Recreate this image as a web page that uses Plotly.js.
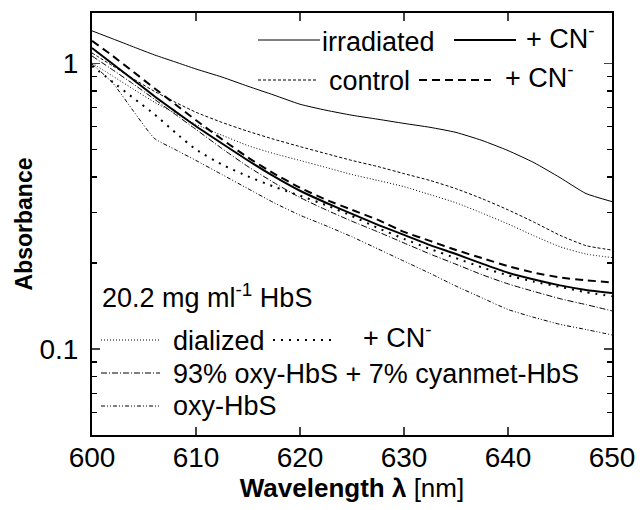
<!DOCTYPE html>
<html>
<head>
<meta charset="utf-8">
<script src="https://cdn.plot.ly/plotly-3.0.1.min.js"></script>
<style>
  html, body { margin: 0; padding: 0; background: #fff; }
  #chart { width: 640px; height: 510px; }
</style>
</head>
<body>
<div id="chart"></div>
<script>
// Wavelength grid (nm)
const wavelength = [600, 602, 604, 606, 608, 610, 612.5, 615, 617.5, 620, 622.5, 625, 627.5, 630, 632.5, 635, 637.5, 640, 642.5, 645, 647.5, 650];

// Absorbance series
const irradiated     = [1.299, 1.218, 1.141, 1.070, 1.011, 0.955, 0.895, 0.831, 0.774, 0.719, 0.685, 0.658, 0.637, 0.616, 0.597, 0.573, 0.537, 0.495, 0.449, 0.398, 0.350, 0.328];
const irradiatedCN   = [1.132, 0.994, 0.874, 0.767, 0.679, 0.602, 0.524, 0.457, 0.402, 0.358, 0.325, 0.297, 0.272, 0.251, 0.231, 0.215, 0.199, 0.185, 0.175, 0.167, 0.161, 0.157];
const control        = [1.087, 0.979, 0.881, 0.798, 0.731, 0.674, 0.621, 0.578, 0.542, 0.511, 0.483, 0.457, 0.435, 0.411, 0.389, 0.364, 0.336, 0.307, 0.278, 0.250, 0.230, 0.222];
const controlCN      = [1.198, 1.061, 0.932, 0.818, 0.719, 0.632, 0.542, 0.468, 0.411, 0.367, 0.333, 0.307, 0.283, 0.257, 0.239, 0.222, 0.208, 0.195, 0.185, 0.178, 0.174, 0.171];
const dialized       = [1.002, 0.902, 0.811, 0.731, 0.668, 0.611, 0.560, 0.515, 0.483, 0.457, 0.432, 0.408, 0.389, 0.370, 0.347, 0.325, 0.299, 0.274, 0.249, 0.228, 0.215, 0.209];
const dializedCN     = [0.979, 0.860, 0.755, 0.663, 0.573, 0.499, 0.442, 0.402, 0.370, 0.344, 0.319, 0.292, 0.265, 0.243, 0.224, 0.208, 0.193, 0.181, 0.172, 0.165, 0.158, 0.153];
const mix93          = [1.061, 0.948, 0.845, 0.749, 0.663, 0.587, 0.503, 0.435, 0.382, 0.339, 0.307, 0.280, 0.257, 0.235, 0.215, 0.198, 0.182, 0.169, 0.159, 0.150, 0.143, 0.136];
const oxyHbS         = [0.995, 0.853, 0.679, 0.546, 0.499, 0.457, 0.408, 0.364, 0.325, 0.294, 0.270, 0.247, 0.224, 0.203, 0.184, 0.166, 0.151, 0.1375, 0.129, 0.122, 0.117, 0.112];

// Axis ticks
const xTicks = [600, 610, 620, 630, 640, 650];
const yTicks = [0.1, 1];
const yTickText = ['0.1', '1'];
const yMinorTicks = [0.06, 0.07, 0.08, 0.09, 0.2, 0.3, 0.4, 0.5, 0.6, 0.7, 0.8, 0.9];

const FONT = 'Arial, "Liberation Sans", sans-serif';

// Line styles
const styles = {
  irr:    {color: '#000', width: 1,   dash: 'solid'},
  irrCN:  {color: '#000', width: 2,   dash: 'solid'},
  ctl:    {color: '#000', width: 1,   dash: '3px,2px'},
  ctlCN:  {color: '#000', width: 2,   dash: '8px,5px'},
  dia:    {color: '#000', width: 1,   dash: '1px,2px'},
  diaCN:  {color: '#000', width: 2,   dash: '2px,6px'},
  mix:    {color: '#000', width: 1,   dash: '6px,2px,1px,2px'},
  oxy:    {color: '#000', width: 1,   dash: '4px,2px,1px,2px,1px,2px'}
};

function tr(y, st, name) {
  return {x: wavelength, y: y, type: 'scatter', mode: 'lines', name: name,
          line: Object.assign({shape: 'spline', smoothing: 0.5}, st), showlegend: false, hoverinfo: 'skip'};
}

const data = [
  tr(irradiated, styles.irr, 'irradiated'),
  tr(irradiatedCN, styles.irrCN, 'irradiated + CN-'),
  tr(control, styles.ctl, 'control'),
  tr(controlCN, styles.ctlCN, 'control + CN-'),
  tr(dialized, styles.dia, 'dialized'),
  tr(dializedCN, styles.diaCN, 'dialized + CN-'),
  tr(mix93, styles.mix, '93% oxy-HbS + 7% cyanmet-HbS'),
  tr(oxyHbS, styles.oxy, 'oxy-HbS')
];

// plot area in pixels: left 92, right 612, top 13, bottom 435
const L = 92, R = 612, T = 13, B = 435;
const px = v => (v - L) / (R - L);
const py = v => (B - v) / (B - T);

function sample(x0, x1, y, st) {
  return {type: 'line', xref: 'paper', yref: 'paper', x0: px(x0), x1: px(x1), y0: py(y), y1: py(y),
          line: {color: st.color, width: st.width, dash: st.dash}};
}
function label(x, y, text) {
  return {xref: 'paper', yref: 'paper', x: px(x), y: py(y), xanchor: 'left', yanchor: 'middle',
          text: text, showarrow: false, font: {family: FONT, size: 27, color: '#000'}};
}

const shapes = [
  sample(258, 320, 40, styles.irr),
  sample(454, 516, 40, styles.irrCN),
  sample(258, 317, 80, styles.ctl),
  sample(419, 491, 80, styles.ctlCN),
  sample(101, 160, 340, styles.dia),
  sample(273, 336, 340, styles.diaCN),
  sample(101, 160, 373, styles.mix),
  sample(101, 160, 406, styles.oxy)
];

const annotations = [
  label(320, 42, 'irradiated'),
  label(524, 37, '+ CN<sup>-</sup>'),
  label(327, 81, 'control'),
  label(503, 76, '+ CN<sup>-</sup>'),
  label(100, 296, '20.2 mg ml<sup>-1</sup> HbS'),
  label(171, 341, 'dialized'),
  label(361, 336, '+ CN<sup>-</sup>'),
  label(171, 374, '93% oxy-HbS + 7% cyanmet-HbS'),
  label(171, 406, 'oxy-HbS')
];

const layout = {
  width: 640, height: 510,
  margin: {l: L, r: 640 - R, t: T, b: 510 - B, pad: 0},
  paper_bgcolor: '#fff', plot_bgcolor: '#fff',
  font: {family: FONT, color: '#000'},
  showlegend: false,
  xaxis: {
    range: [600, 650], tickvals: xTicks, ticks: 'inside', ticklen: 8, tickwidth: 1.5,
    showline: true, linewidth: 2, linecolor: '#000', mirror: 'ticks', showgrid: false, zeroline: false,
    tickfont: {family: FONT, size: 28, color: '#000'}, ticklabelstandoff: -4,
    title: {text: '<b>Wavelength</b> <b>λ</b> [nm]', font: {family: FONT, size: 26, color: '#000'}, standoff: 6}
  },
  yaxis: {
    type: 'log', range: [Math.log10(0.05), Math.log10(1.5)],
    tickvals: yTicks, ticktext: yTickText, ticks: 'inside', ticklen: 8, tickwidth: 1.5,
    minor: {tickvals: yMinorTicks, ticks: 'inside', ticklen: 5, tickwidth: 1.5, tickcolor: '#000', showgrid: false},
    showline: true, linewidth: 2, linecolor: '#000', mirror: 'ticks', showgrid: false, zeroline: false,
    tickfont: {family: FONT, size: 28, color: '#000'}, ticklabelstandoff: 6,
    title: {text: '<b>Absorbance</b>', font: {family: FONT, size: 23, color: '#000'}, standoff: 0}
  },
  shapes: shapes,
  annotations: annotations
};

Plotly.newPlot('chart', data, layout, {staticPlot: true, displayModeBar: false});
</script>
</body>
</html>
